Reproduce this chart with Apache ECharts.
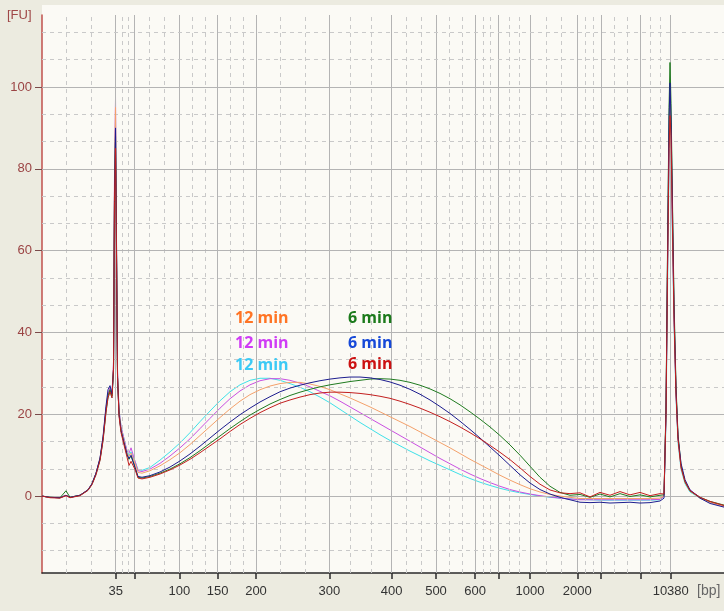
<!DOCTYPE html>
<html><head><meta charset="utf-8">
<script src="https://cdn.jsdelivr.net/npm/echarts@6/dist/echarts.min.js"></script>
<style>html,body{margin:0;padding:0;background:#ecebe0;}#c{width:724px;height:611px;}</style>
</head><body><div id="c"></div>
<script>
// Ladder (bp) and their migration times (s)
const ladderBp = [35,50,100,150,200,300,400,500,600,700,1000,2000,3000,7000,10380];
const ladderTime = [43.21,45.54,51.16,55.94,60.75,69.91,77.71,83.25,88.13,91.04,95.00,100.91,103.88,108.84,112.59];
const labeledBp = [35,100,150,200,300,400,500,600,1000,2000,10380];
const yTickValues = [0,20,40,60,80,100];
const timeRange = [34, 119.25];
const fuRange = [-18.8, 117.6];

// sample times (s)
const timeSec = [34.00,35.00,36.25,37.00,37.50,38.75,39.75,40.25,40.75,41.25,41.63,42.00,42.25,42.50,42.75,42.94,43.06,43.19,43.31,43.44,43.63,43.88,44.25,44.63,44.88,45.13,45.38,45.63,46.00,46.50,
47.50,48.75,50.00,51.25,52.50,53.75,55.00,56.25,57.50,58.75,60.00,61.25,62.50,63.75,65.00,66.25,67.50,68.75,70.00,71.25,72.50,73.75,75.00,76.25,77.50,78.75,80.00,81.25,82.50,83.75,85.00,86.25,87.50,88.75,90.00,91.25,92.50,93.75,95.00,96.25,97.50,98.75,100.00,101.25,102.50,103.75,105.00,106.25,107.50,108.75,110.00,111.25,
111.75,112.00,112.19,112.38,112.50,112.63,112.81,113.00,113.25,113.50,113.88,114.38,115.00,116.25,117.50,119.25];

// 12 min, orange
const fu12Orange = [0,-0.3,-0.4,0.2,-0.3,0.2,1.5,3,5.5,9, 14,21,24.5,26,24.5, 32,76,95,63,30, 20.5,16.5,13.5,10.5,9.8,10.5,10.2,8,5.8,5.6,
6.2,7.4,8.9,10.6,12.6,14.8,17,19.2,21.3,23.2, 24.8,26,26.9,27.5,27.8,27.8,27.4,26.8,26,25, 24,22.9,21.8,20.6,19.4,18.2,17,15.7,14.4,13.1, 11.8,10.4,9,7.7,6.4,5.1,3.9,2.8,1.8,1, 0.4,0,-0.3,-0.6,-0.6,-0.6,-0.6,-0.6,-0.6,-0.6, -0.6,-0.5,
0,21,56,88,98,90,68,45,26,14,7,3.3,1.2,-0.5,-1.5,-2.5];
// 12 min, magenta
const fu12Magenta = [0,-0.3,-0.4,0.2,-0.3,0.2,1.6,3.1,5.6,9.2, 14.2,21.5,25,26.5,25, 33,78,97.5,64,31, 21,17,14,11,10.5,11.8,11.5,8.5,6.2,6,
6.6,8,9.8,11.8,14,16.5,19,21.5,23.8,25.7, 27.2,28.2,28.7,28.7,28.3,27.6,26.7,25.6,24.5,23.2, 21.8,20.4,19,17.6,16.2,14.8,13.4,12,10.6,9.2, 7.9,6.6,5.4,4.3,3.3,2.4,1.6,1,0.5,0.1, -0.2,-0.5,-0.7,-0.9,-0.9,-0.9,-0.9,-0.9,-0.9,-0.9, -0.9,-0.8,
0,20,55,85,90,85,65,44,25,14,7,3.5,1.5,-0.3,-1.5,-2.5];
// 12 min, cyan
const fu12Cyan = [0,-0.3,-0.4,0.2,-0.3,0.2,1.4,2.9,5.3,8.8, 13.6,20.5,24,25.5,24, 30,72,92,60,30, 21,17,14,11,10,10.8,10.5,8.5,6.5,6.3,
7,8.8,10.8,13,15.5,18.2,20.8,23.3,25.5,27.2, 28.3,28.8,28.8,28.3,27.5,26.6,25.5,24.2,22.8,21.2, 19.6,18,16.5,15,13.6,12.3,11,9.8,8.6,7.5, 6.4,5.3,4.3,3.4,2.6,1.9,1.3,0.8,0.4,0, -0.3,-0.5,-0.7,-0.8,-0.9,-1,-1,-1,-1,-1, -1,-0.9,
0,18,50,80,88,82,62,42,24,13,6.5,3,1,-0.5,-1.5,-2.5];
// 6 min, green
const fu6Green = [0,-0.3,-0.4,1.3,-0.3,0.2,1.5,3,5.5,9, 14,21,24.5,26,24.5, 31,73,88,61,29, 20,16,13,10,9,9.8,9.5,7,4.6,4.4,
4.8,5.6,6.6,7.9,9.4,11.1,12.9,14.7,16.5,18.2, 19.8,21.2,22.5,23.6,24.6,25.4,26.1,26.7,27.2,27.6, 28,28.3,28.6,28.7,28.6,28.3,27.8,27.1,26.2,25.1, 23.8,22.3,20.6,18.8,16.9,14.8,12.5,10,7.3,4.6, 2.4,0.9,0.2,0.4,-0.3,0.5,-0.2,0.6,-0.1,0.3, -0.2,0.2,
0.3,22,60,95,106,96,72,48,27,15,7.5,3.5,1.3,-0.3,-1.3,-2.2];
// 6 min, blue
const fu6Blue = [0,-0.3,-0.4,0.2,-0.3,0.2,1.5,3,5.6,9.3, 14.5,22,26,27,25, 31,74,90,62,29, 20,16,13,10.2,9.2,10,9.6,7,4.8,4.6,
5,5.9,7.1,8.6,10.3,12.2,14.2,16.2,18.1,19.9, 21.5,23,24.3,25.5,26.4,27.1,27.7,28.2,28.6,28.9, 29.1,29.1,28.9,28.5,27.9,27.1,26.1,24.9,23.5,21.9, 20.2,18.3,16.3,14.2,12,9.8,7.5,5.2,3.2,1.6, 0.5,-0.3,-0.9,-1.5,-1.6,-1.5,-1.7,-1.6,-1.5,-1.7, -1.6,-1.2,
-0.5,21,58,92,101,92,70,46,26,14.5,8,4,1.5,-0.5,-1.8,-2.7];
// 6 min, red
const fu6Red = [0,-0.4,-0.5,0.1,-0.4,0.1,1.4,2.8,5.2,8.7, 13.5,20.5,24,25.5,24, 31,72,85,60,29, 19.5,15.5,12.5,9.5,7.5,8.5,8.5,6.5,4.4,4.2,
4.6,5.4,6.4,7.6,9,10.6,12.3,14,15.8,17.5, 19,20.4,21.6,22.7,23.5,24.2,24.8,25.2,25.4,25.4, 25.3,25.1,24.8,24.4,23.9,23.2,22.4,21.5,20.5,19.4, 18.2,16.9,15.5,14,12.4,10.7,8.9,6.9,4.8,2.9, 1.5,0.8,0.6,0.8,-0.2,0.9,0.2,1.1,0.3,0.9, 0.1,0.6,
0.5,20,55,85,93,88,66,44,25,14,7,3.5,1.3,-0.3,-1.3,-2.3];

const seriesDefs = [
  {name:'12 min cyan', values:fu12Cyan, color:'#3ee0e8'},
  {name:'12 min magenta', values:fu12Magenta, color:'#c94fe0'},
  {name:'12 min orange', values:fu12Orange, color:'#f3a06a'},
  {name:'6 min green', values:fu6Green, color:'#1f7a1f'},
  {name:'6 min blue', values:fu6Blue, color:'#1c1c8e'},
  {name:'6 min red', values:fu6Red, color:'#c21e1e'}
];

const legendTexts = [
  {text:'12 min', color:'#ff7424', left:235, top:310},
  {text:'12 min', color:'#cf3cf5', left:235, top:335},
  {text:'12 min', color:'#3ccaf5', left:235, top:357},
  {text:'6 min', color:'#1b7a1b', left:348, top:310},
  {text:'6 min', color:'#1548d8', left:348, top:335},
  {text:'6 min', color:'#cc1111', left:348, top:356}
];

// grid lines
const gridSolid = '#b4b4b4', gridDash = '#c9c9c9';
const lines = [];
const bounds = [timeRange[0]].concat(ladderTime);
for (let i = 1; i < bounds.length; i++) {
  const a = bounds[i-1], b = bounds[i];
  lines.push({xAxis: a + (b-a)/3, lineStyle:{type:[4,4], color:gridDash, width:1}});
  lines.push({xAxis: a + 2*(b-a)/3, lineStyle:{type:[4,4], color:gridDash, width:1}});
}
ladderTime.forEach(t => lines.push({xAxis:t, lineStyle:{type:'solid', color:gridSolid, width:1}}));
for (let k = -3; k <= 18; k++) {
  const v = k * 20 / 3;
  if (v <= fuRange[0] || v >= fuRange[1]) continue;
  if (k % 3 === 0) lines.push({yAxis:v, lineStyle:{type:'solid', color:gridSolid, width:1}});
  else lines.push({yAxis:v, lineStyle:{type:[4,4], color:gridDash, width:1}});
}

const labeledTimes = labeledBp.map(b => ladderTime[ladderBp.indexOf(b)]);

const chart = echarts.init(document.getElementById('c'));
const series = [{
  type:'line', data:[[timeRange[0], null]], z:1, silent:true, showSymbol:false,
  lineStyle:{opacity:0},
  markLine:{silent:true, symbol:'none', animation:false, label:{show:false}, data:lines}
}].concat(seriesDefs.map((s, i) => ({
  name:s.name, type:'line', z:3+i, silent:true, showSymbol:false, symbol:'none',
  data: timeSec.map((t, j) => [t, s.values[j]]),
  lineStyle:{color:s.color, width:1}, itemStyle:{color:s.color}
})));

chart.setOption({
  animation:false,
  backgroundColor:'#ecebe0',
  grid:{left:42, right:0, top:15, bottom:38, show:true, backgroundColor:'#fbfaf5', borderWidth:0},
  xAxis:{type:'value', min:timeRange[0], max:timeRange[1],
    axisLine:{onZero:false, lineStyle:{color:'#2a2a2a', width:1.5}},
    axisTick:{customValues:ladderTime, length:6, lineStyle:{color:'#2a2a2a', width:1.5}},
    axisLabel:{customValues:labeledTimes, margin:12, color:'#333', fontSize:13, fontFamily:'Liberation Sans',
      formatter: v => { const i = ladderTime.findIndex(t => Math.abs(t - v) < 0.01); return i >= 0 ? String(ladderBp[i]) : ''; }},
    splitLine:{show:false}},
  yAxis:{type:'value', min:fuRange[0], max:fuRange[1],
    axisLine:{show:true, lineStyle:{color:'#c0504d', width:1.5}},
    axisTick:{show:true, customValues:yTickValues, length:7, lineStyle:{color:'#7a4a4a'}},
    axisLabel:{customValues:yTickValues, margin:10, color:'#9b4444', fontSize:13, fontFamily:'Liberation Sans'},
    splitLine:{show:false}},
  graphic:[
    {type:'rect', shape:{x:42, y:5, width:682, height:10}, style:{fill:'#fbfaf5'}, z:-1, silent:true},
    {type:'text', left:7, top:9, style:{text:'[FU]', fill:'#a04848', font:'13px "Liberation Sans"'}},
    {type:'text', left:697, top:584, style:{text:'[bp]', fill:'#666', font:'14px "Liberation Sans"'}}
  ].concat(legendTexts.map(l => ({type:'text', left:l.left, top:l.top, z:100,
    style:{text:l.text, fill:l.color, font:'bold 16px "Open Sans"'}}))),
  series: series
});
</script></body></html>
